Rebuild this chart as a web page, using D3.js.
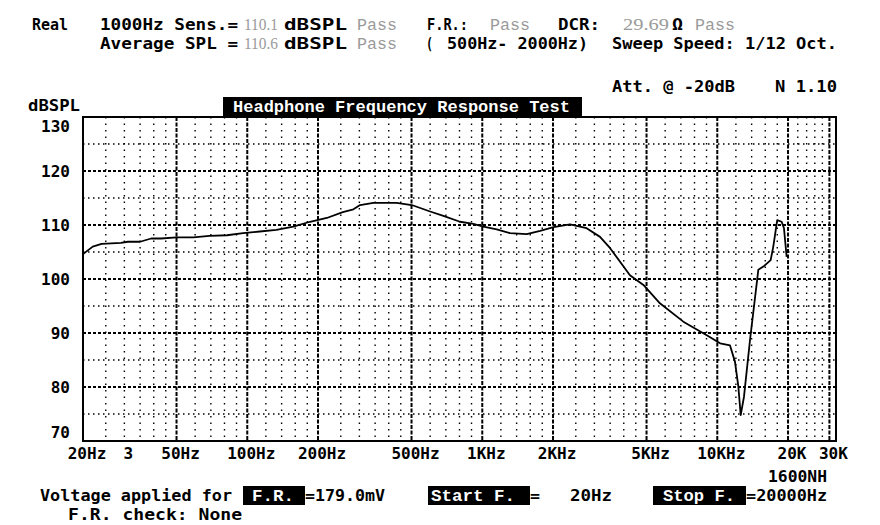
<!DOCTYPE html>
<html>
<head>
<meta charset="utf-8">
<script src="https://cdn.jsdelivr.net/npm/d3@7"></script>
<style>
  html, body { margin: 0; padding: 0; background: #fff; }
  svg { display: block; }
</style>
</head>
<body>
<svg id="chart" width="880" height="525"></svg>
<script>
// ---------- DATA ----------
const freqs = [20, 22, 24, 29, 31, 35, 39, 43, 50, 59, 69, 82, 96, 113, 133, 157, 185, 218, 255, 283, 302, 344, 432, 501, 600, 683, 804, 916, 1011, 1152, 1312, 1546, 1763, 2010, 2362, 2780, 3170, 3500, 4250, 4850, 5700, 7170, 9020, 10280, 11330, 11890, 12290, 12580, 12990, 13780, 14950, 15700, 16870, 17310, 17990, 18790, 19220, 19730];
const spl = [104.6, 106.0, 106.5, 106.7, 106.9, 106.9, 107.5, 107.5, 107.7, 107.7, 108.0, 108.1, 108.5, 108.8, 109.1, 109.7, 110.6, 111.3, 112.4, 112.9, 113.7, 114.1, 114.1, 113.7, 112.5, 111.7, 110.6, 110.2, 109.7, 109.2, 108.5, 108.3, 108.9, 109.6, 110.1, 109.4, 107.8, 105.7, 100.7, 98.9, 95.5, 92.1, 89.6, 88.1, 87.7, 84.7, 80.1, 74.8, 78.2, 88.7, 101.7, 102.3, 103.5, 106.0, 110.9, 110.6, 109.4, 104.1];

const yTickValues = [130, 120, 110, 100, 90, 80, 70];
const yMinorValues = [125, 115, 105, 95, 85, 75];
const xTickValues = [20, 30, 50, 100, 200, 500, 1000, 2000, 5000, 10000, 20000, 30000];
const xTickLabels = ["20Hz", "3", "50Hz", "100Hz", "200Hz", "500Hz", "1KHz", "2KHz", "5KHz", "10KHz", "20K", "30K"];
const xMajorGrid = [50, 100, 200, 500, 1000, 2000, 5000, 10000, 20000, 30000];
const xMinorGrid = [25, 30, 35, 40, 45, 60, 70, 80, 90, 120, 140, 160, 180, 250, 300, 350, 400, 450, 600, 700, 800, 900, 1200, 1400, 1600, 1800, 2500, 3000, 3500, 4000, 4500, 6000, 7000, 8000, 9000, 12000, 14000, 16000, 18000, 22000, 24000, 26000, 28000];

// ---------- LAYOUT ----------
const svg = d3.select("#chart");
const L = 83, T = 117, R = 836, B = 441;
const x = d3.scaleLog().domain([20, 32000]).range([L, R]);
const y = d3.scaleLinear().domain([70, 130]).range([B, T]);

const BOLD = "'DejaVu Sans Mono', 'Liberation Mono', monospace";
const COUR = "'Liberation Mono', 'DejaVu Sans Mono', monospace";
const SERIF = "'Liberation Serif', 'DejaVu Serif', serif";
const GRAY = "#9a9a9a";

function txt(s, xx, yy, w, opts = {}) {
  const t = svg.append("text")
    .attr("x", xx).attr("y", yy)
    .attr("font-family", opts.family || BOLD)
    .attr("font-weight", opts.weight || "bold")
    .attr("font-size", opts.size || 16)
    .attr("fill", opts.fill || "#000")
    .text(s);
  if (w) t.attr("textLength", w).attr("lengthAdjust", "spacingAndGlyphs");
  if (opts.anchor) t.attr("text-anchor", opts.anchor);
  return t;
}
const gray = {family: SERIF, weight: "normal", fill: GRAY, size: 16};
const grayC = {family: COUR, weight: "normal", fill: GRAY, size: 16};

// ---------- HEADER ----------
txt("Real", 32, 30, 36);
txt("1000Hz Sens.=", 100, 30, 138);
txt("110.1", 244, 30, 34, gray);
txt("dBSPL", 284, 30, 63);
txt("Pass", 357, 30, 40, grayC);
txt("F.R.:", 427, 30, 41);
txt("Pass", 490, 30, 40, grayC);
txt("DCR:", 558, 30, 42);
txt("29.69", 623, 30, 46, gray);
txt("\u03A9", 672, 30, 11);
txt("Pass", 695, 30, 40, grayC);

txt("Average SPL =", 100, 49, 138);
txt("110.6", 244, 49, 34, gray);
txt("dBSPL", 284, 49, 63);
txt("Pass", 357, 49, 40, grayC);
txt("(", 426, 49, 7);
txt("500Hz- 2000Hz)", 447, 49, 141);
txt("Sweep Speed: 1/12 Oct.", 612, 49, 225);

txt("Att. @ -20dB", 612, 92, 123);
txt("N 1.10", 775, 92, 62);

// title box
svg.append("rect").attr("x", 223).attr("y", 97).attr("width", 359).attr("height", T - 97).attr("fill", "#000");
txt("Headphone Frequency Response Test", 233, 112, 337, {family: COUR, fill: "#fff", size: 17});

txt("dBSPL", 28, 111, 52);

// ---------- GRID ----------
const g = svg.append("g");
g.selectAll(".hmin").data(yMinorValues).join("line")
  .attr("x1", L).attr("x2", R).attr("y1", d => y(d)).attr("y2", d => y(d))
  .attr("stroke", "#000").attr("stroke-width", 1.4).attr("stroke-dasharray", "1.5,3.5");
g.selectAll(".vmin").data(xMinorGrid).join("line")
  .attr("x1", d => x(d)).attr("x2", d => x(d)).attr("y1", T).attr("y2", B)
  .attr("stroke", "#000").attr("stroke-width", 1.4).attr("stroke-dasharray", "1.5,5");
g.selectAll(".hmaj").data(yTickValues.filter(v => v !== 130 && v !== 70)).join("line")
  .attr("x1", L).attr("x2", R).attr("y1", d => y(d)).attr("y2", d => y(d))
  .attr("stroke", "#000").attr("stroke-width", 2).attr("stroke-dasharray", "3,2");
g.selectAll(".vmaj").data(xMajorGrid).join("line")
  .attr("x1", d => x(d)).attr("x2", d => x(d)).attr("y1", T).attr("y2", B)
  .attr("stroke", "#000").attr("stroke-width", 2).attr("stroke-dasharray", "4,1.5");

svg.append("rect").attr("x", L).attr("y", T).attr("width", R - L).attr("height", B - T)
  .attr("fill", "none").attr("stroke", "#000").attr("stroke-width", 2);

// ---------- AXIS LABELS ----------
svg.selectAll(".ylab").data(yTickValues).join("text")
  .attr("x", 70)
  .attr("y", d => d === 130 ? y(d) + 15 : d === 70 ? y(d) - 3 : y(d) + 6)
  .attr("text-anchor", "end")
  .attr("font-family", BOLD).attr("font-weight", "bold").attr("font-size", 16)
  .text(d => d);

svg.selectAll(".xlab").data(xTickValues).join("text")
  .attr("x", d => x(d) + 4)
  .attr("y", 459)
  .attr("text-anchor", "middle")
  .attr("font-family", BOLD).attr("font-weight", "bold").attr("font-size", 16)
  .text((d, i) => xTickLabels[i]);

txt("1600NH", 768, 482, 59);

// ---------- CURVE ----------
const pts = freqs.map((f, i) => [f, spl[i]]);
svg.append("path")
  .datum(pts)
  .attr("d", d3.line().x(d => x(d[0])).y(d => y(d[1])).curve(d3.curveLinear))
  .attr("fill", "none").attr("stroke", "#000").attr("stroke-width", 1.8)
  .attr("stroke-linejoin", "round");

// ---------- FOOTER ----------
txt("Voltage applied for", 40, 501, 192);
svg.append("rect").attr("x", 243).attr("y", 486).attr("width", 62).attr("height", 19).attr("fill", "#000");
txt("F.R.", 252, 501, 42, {family: COUR, fill: "#fff"});
txt("=179.0mV", 305, 501, 80);

svg.append("rect").attr("x", 428).attr("y", 486).attr("width", 102).attr("height", 19).attr("fill", "#000");
txt("Start F.", 431, 501, 84, {family: COUR, fill: "#fff"});
txt("=", 530, 501, 10);
txt("20Hz", 570, 501, 42);

svg.append("rect").attr("x", 653).attr("y", 486).attr("width", 93).attr("height", 19).attr("fill", "#000");
txt("Stop F.", 663, 501, 72, {family: COUR, fill: "#fff"});
txt("=20000Hz", 746, 501, 81);

txt("F.R. check:  None", 68, 520, 174);
</script>
</body>
</html>
